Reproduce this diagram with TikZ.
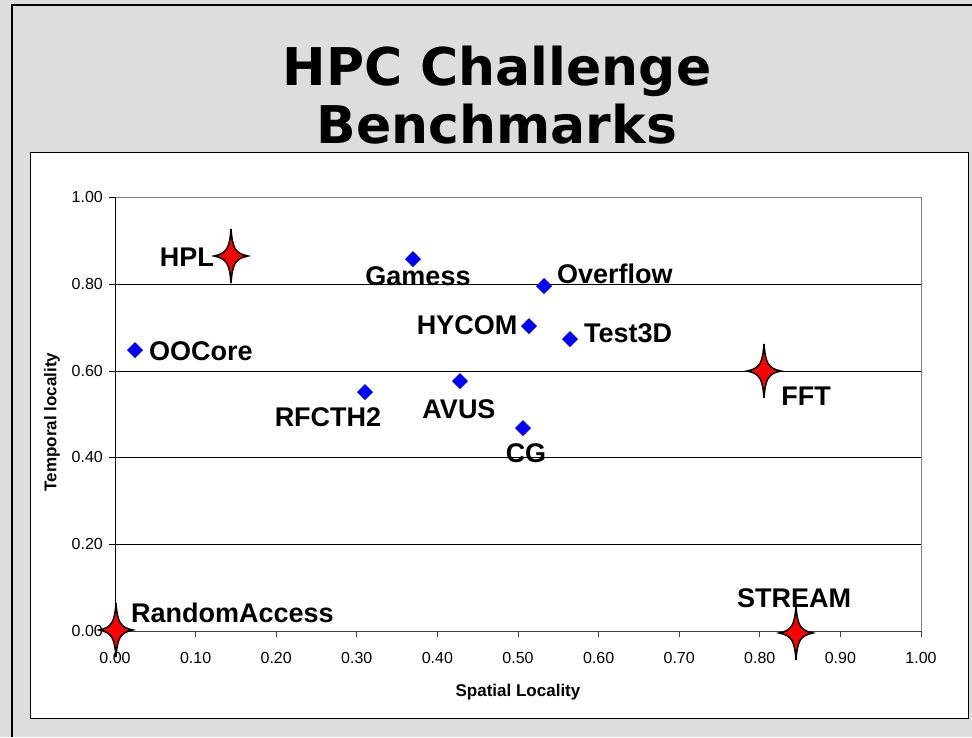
\documentclass[tikz,border=0pt]{standalone}
\usepackage{fontspec}
\setmainfont{Liberation Sans}
\newfontfamily\hpctitlefont{DejaVu Sans}
\definecolor{bggray}{HTML}{DDDDDD}
\definecolor{plotgray}{HTML}{808080}
\tikzset{
  lbl/.style={font=\bfseries\fontsize{27}{30}\selectfont, inner sep=0pt, anchor=base},
  ticklbl/.style={font=\fontsize{16}{18}\selectfont, inner sep=0pt},
  axtitle/.style={font=\bfseries\fontsize{17}{19}\selectfont, inner sep=0pt},
  grid line/.style={draw=black, line width=1pt},
  diam/.pic={\fill[blue] (-8,0)--(0,-8)--(8,0)--(0,8)--cycle;},
  sparkle/.pic={\draw[draw=black, fill=red, line width=1.5pt, line join=miter, miter limit=6]
     (0,-27) .. controls (1.5,-8) and (4,-2.5) .. (17,0)
     .. controls (4,2.5) and (1.5,8) .. (0,27)
     .. controls (-1.5,8) and (-4,2.5) .. (-17,0)
     .. controls (-4,-2.5) and (-1.5,-8) .. cycle;}
}
\begin{document}
\begin{tikzpicture}[x=1pt,y=-1pt]
\useasboundingbox (0,0) rectangle (972,737);
\fill[bggray] (0,0) rectangle (972,737);
\draw[draw=black, line width=2.5pt] (12,737) -- (12,5) -- (972,5);
% title
\node[font=\hpctitlefont\bfseries\fontsize{52}{58}\selectfont, inner sep=0pt, anchor=base] (title1) at (497,85) {HPC Challenge};
\node[font=\hpctitlefont\bfseries\fontsize{52}{58}\selectfont, inner sep=0pt, anchor=base] (title2) at (497,143) {Benchmarks};
% chart area
\draw[fill=white, draw=black, line width=1pt] (30,152) rectangle (968,718);
% plot frame
\draw[draw=plotgray, line width=1pt] (115,197) -- (921,197) -- (921,631);
\foreach \yy in {284,371,457,544} {\draw[grid line] (115,\yy) -- (921,\yy);}
\draw[draw=black, line width=1pt] (115,197) -- (115,631);
\draw[draw=black!75, line width=1pt] (115,631) -- (921,631);
% y ticks and labels
\foreach \yy/\t [count=\i] in {631/0.00,544/0.20,457/0.40,371/0.60,284/0.80,197/1.00} {
  \draw[draw=black, line width=1pt] (109,\yy) -- (115,\yy);
  \node[ticklbl, anchor=east] (ytl\i) at (103,\yy) {\t};
}
% x ticks and labels
\foreach \i/\t in {0/0.00,1/0.10,2/0.20,3/0.30,4/0.40,5/0.50,6/0.60,7/0.70,8/0.80,9/0.90,10/1.00} {
  \pgfmathsetmacro{\xx}{115+80.6*\i}
  \draw[draw=black!75, line width=1pt] (\xx,631) -- (\xx,637);
  \node[ticklbl] (xtl\i) at (\xx,658) {\t};
}
% axis titles
\node[axtitle] (xtitle) at (518,692) {Spatial Locality};
\node[axtitle, rotate=90] (ytitle) at (52,422) {Temporal locality};
% data points (diamonds)
\pic at (135,350) {diam};
\pic at (413,259) {diam};
\pic at (544,286) {diam};
\pic at (529,326) {diam};
\pic at (570,339) {diam};
\pic at (365,392) {diam};
\pic at (460,381) {diam};
\pic at (523,428) {diam};
\pic at (229,254) {diam};
\pic at (798,631) {diam};
\pic at (114,629) {diam};
\pic at (764,371) {diam};
% stars
\pic at (231,256) {sparkle};
\pic at (764,371) {sparkle};
\pic at (116,630) {sparkle};
\pic at (796,633) {sparkle};
% labels
\node[lbl, anchor=base east] (lhpl) at (214,266) {HPL};
\node[lbl] (lgamess) at (418,285) {Gamess};
\node[lbl, anchor=base west] (loverflow) at (557,283) {Overflow};
\node[lbl] (lhycom) at (467,334) {HYCOM};
\node[lbl, anchor=base west] (ltest) at (584,342) {Test3D};
\node[lbl, anchor=base west] (looc) at (149,360) {OOCore};
\node[lbl] (lrfc) at (328,426) {RFCTH2};
\node[lbl] (lavus) at (459,418) {AVUS};
\node[lbl] (lcg) at (526,462) {CG};
\node[lbl] (lfft) at (806,405) {FFT};
\node[lbl, anchor=base west] (lra) at (131,622) {RandomAccess};
\node[lbl] (lstream) at (794,607) {STREAM};
\end{tikzpicture}
\end{document}
